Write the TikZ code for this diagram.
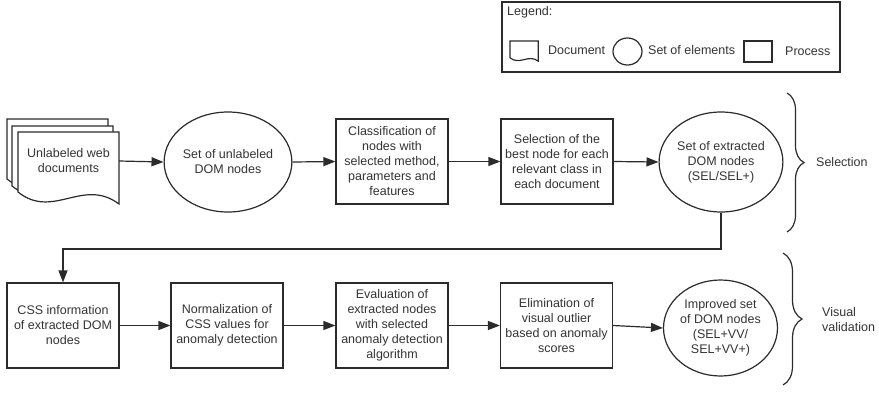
\documentclass[tikz,border=0pt]{standalone}
\usepackage{fontspec}
\setmainfont{Liberation Sans}
\usetikzlibrary{shapes.geometric,arrows.meta,decorations.pathreplacing}
\definecolor{ln}{HTML}{2B2B2B}
\definecolor{txt}{HTML}{333333}

\begin{document}
\begin{tikzpicture}[x=1pt,y=-1pt,
  every node/.style={font=\fontsize{12.5}{15}\selectfont, text=txt},
  proc/.style={draw=ln, line width=1.2pt, minimum width=112pt, minimum height=85pt,
    align=center, inner sep=0pt},
  setel/.style={ellipse, draw=ln, line width=1.2pt, minimum width=112pt,
    minimum height=100pt, align=center, inner sep=0pt},
  flow/.style={draw=ln, line width=1.2pt, -{Triangle[length=12pt,width=9pt]}},
  outline/.style={draw=ln, line width=1.2pt},
  bracket/.style={draw=ln, line width=1.2pt, decorate,
    decoration={brace, amplitude=#1}}
]
\useasboundingbox (0,0) rectangle (879,392);

% legend
\node[outline, minimum width=338pt, minimum height=70pt, inner sep=0pt] (legend) at (671,37) {};
\node[anchor=west, inner sep=0pt] (legendtitle) at (507,12) {Legend:};
\draw[outline, shift={(510,41)}, scale=0.28]
  (0,0) -- (101,0) -- (101,72) .. controls (65,45) and (35,88) .. (0,60) -- cycle;
\node[anchor=west, inner sep=0pt] (ldoc) at (548,50) {Document};
\node[ellipse, outline, minimum width=29pt, minimum height=27pt, inner sep=0pt] (lset) at (627.5,51.5) {};
\node[anchor=west, inner sep=0pt] (lsettext) at (648,50) {Set of elements};
\node[outline, minimum width=28pt, minimum height=21pt, inner sep=0pt] (lproc) at (758,51.5) {};
\node[anchor=west, inner sep=0pt] (lproctext) at (785,51) {Process};

% stacked web documents
\foreach \dx/\dy in {-11/-13, -6/-6, 0/0}
  \draw[outline, fill=white, shift={(18+\dx,132+\dy)}]
    (0,0) -- (101,0) -- (101,72) .. controls (65,45) and (35,88) .. (0,60) -- cycle;
\node[minimum width=101pt, inner sep=0pt, align=center] (doc) at (68.5,161) {Unlabeled web\\documents};

% selection stage
\node[setel] (c1) at (228,162) {Set of unlabeled\\DOM nodes};
\node[proc] (p1) at (392,161.5) {Classification of\\nodes with\\selected method,\\parameters and\\features};
\node[proc] (p2) at (557,161.5) {Selection of the\\best node for each\\relevant class in\\each document};
\node[setel, minimum width=114pt] (c2) at (721,162) {Set of extracted\\DOM nodes\\(SEL/SEL+)};

\draw[flow] (doc.east) -- (c1.west);
\draw[flow] (c1.east) -- (p1.west);
\draw[flow] (p1.east) -- (p2.west);
\draw[flow] (p2.east) -- (c2.west);

% visual validation stage
\node[proc] (q1) at (63,325.5) {CSS information\\of extracted DOM\\nodes};
\node[proc] (q2) at (227,325.5) {Normalization of\\CSS values for\\anomaly detection};
\node[proc] (q3) at (392,325.5) {Evaluation of\\extracted nodes\\with selected\\anomaly detection\\algorithm};
\node[proc] (q4) at (556.5,325.5) {Elimination of\\visual outlier\\based on anomaly\\scores};
\node[setel, minimum height=96pt] (c3) at (720.5,328) {Improved set\\of DOM nodes\\(SEL+VV/\\SEL+VV+)};

\coordinate (turn) at (721,249);
\draw[flow] (c2.south) -- (turn) -| (q1.north);
\draw[flow] (q1.east) -- (q2.west);
\draw[flow] (q2.east) -- (q3.west);
\draw[flow] (q3.east) -- (q4.west);
\draw[flow] (q4.east) -- (c3.west);

% stage braces
\coordinate (b1top) at (787,93);
\coordinate (b1bot) at (787,232);
\coordinate (b2top) at (783,253);
\coordinate (b2bot) at (783,385);
\draw[bracket=17pt] (b1top) -- (b1bot);
\draw[bracket=19pt] (b2top) -- (b2bot);
\node[anchor=west, inner sep=0pt] (selection) at (816,162) {Selection};
\node[anchor=west, align=left, inner sep=0pt] (visval) at (822,320) {Visual\\validation};
\end{tikzpicture}
\end{document}
